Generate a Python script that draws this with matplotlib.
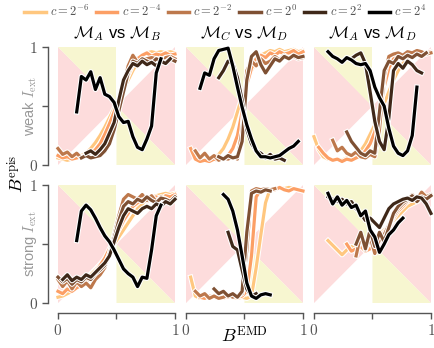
import numpy as np
import matplotlib
matplotlib.use("Agg")
import matplotlib.pyplot as plt
import matplotlib.patheffects as pe
from matplotlib.lines import Line2D

plt.rcParams['mathtext.fontset'] = 'cm'
plt.rcParams['font.family'] = ['Liberation Sans', 'DejaVu Sans']

nan = np.nan

# B^EMD sample positions shared by every curve
bemd = [0.00, 0.04, 0.08, 0.12, 0.16, 0.20, 0.24, 0.28, 0.32, 0.36, 0.40, 0.44, 0.48,
        0.52, 0.56, 0.60, 0.64, 0.68, 0.72, 0.76, 0.80, 0.84, 0.88, 0.92, 0.96, 1.00]

c_labels = [r'$c=2^{-6}$', r'$c=2^{-4}$', r'$c=2^{-2}$', r'$c=2^{0}$', r'$c=2^{2}$', r'$c=2^{4}$']
col_titles = [r'$\mathcal{M}_A$ vs $\mathcal{M}_B$', r'$\mathcal{M}_C$ vs $\mathcal{M}_D$',
              r'$\mathcal{M}_A$ vs $\mathcal{M}_D$']
row_labels = [r'weak $I_{\rm ext}$', r'strong $I_{\rm ext}$']

# B^epis per c (2^-6 ... 2^4), one list per panel
weak_AB = [
    [0.06, 0.05, 0.04, 0.05, 0.06, 0.08, 0.10, 0.14, 0.19, 0.25, 0.32, 0.40, 0.48, 0.56, 0.64, 0.72, 0.80, 0.87, 0.92, 0.95, 0.96, 0.95, 0.96, 0.95, 0.96, 0.95],
    [0.08, 0.06, 0.07, 0.05, 0.06, 0.07, 0.08, 0.10, 0.13, 0.18, 0.26, 0.35, 0.45, 0.56, 0.66, 0.76, 0.85, 0.90, 0.93, 0.95, 0.92, 0.94, 0.93, 0.95, 0.93, 0.94],
    [0.14, 0.09, 0.11, 0.07, 0.10, 0.06, 0.09, 0.07, 0.08, 0.09, 0.11, 0.22, 0.36, 0.50, 0.68, 0.84, 0.93, 0.87, 0.89, 0.90, 0.91, 0.90, 0.87, 0.91, 0.92, 0.90],
    [nan, nan, nan, nan, nan, 0.06, 0.08, 0.06, 0.07, 0.08, 0.12, 0.18, 0.30, 0.46, 0.62, 0.78, 0.88, 0.86, 0.90, 0.88, 0.86, 0.90, 0.88, 0.87, 0.90, 0.88],
    [nan, nan, nan, nan, nan, nan, 0.10, 0.12, 0.09, 0.13, 0.18, 0.27, 0.36, 0.55, 0.72, 0.80, 0.86, 0.84, 0.88, 0.85, 0.87, 0.84, 0.88, 0.86, 0.90, nan],
    [nan, nan, nan, nan, 0.45, 0.75, 0.72, 0.79, 0.64, 0.74, 0.60, 0.58, 0.53, 0.41, 0.36, 0.37, 0.24, 0.15, 0.13, 0.22, 0.33, 0.78, 0.90, nan, nan, nan],
]
weak_CD = [
    [nan, nan, nan, nan, nan, 0.04, 0.06, 0.09, 0.14, 0.22, 0.32, 0.45, 0.58, 0.70, 0.80, 0.88, 0.93, 0.95, 0.97, 0.96, 0.98, 0.96, 0.97, 0.98, 0.96, 0.97],
    [nan, 0.14, 0.05, 0.03, 0.04, 0.03, 0.05, 0.04, 0.06, 0.08, 0.14, 0.25, 0.45, 0.68, 0.82, 0.90, 0.93, 0.91, 0.95, 0.93, 0.96, 0.94, 0.95, 0.97, 0.94, 0.96],
    [nan, nan, 0.12, 0.06, 0.10, 0.05, 0.08, 0.04, 0.06, 0.05, 0.07, 0.05, 0.30, 0.80, 0.88, 0.84, 0.90, 0.86, 0.88, 0.92, 0.89, 0.93, 0.90, 0.92, 0.90, 0.91],
    [nan, nan, nan, nan, nan, nan, nan, 0.07, 0.05, 0.08, 0.06, 0.07, 0.20, 0.72, 0.92, 0.96, 0.85, 0.78, 0.84, 0.90, 0.88, 0.92, 0.90, 0.93, 0.91, 0.92],
    [nan, nan, nan, nan, nan, nan, nan, 0.74, 0.80, 0.88, 0.86, 0.74, 0.55, 0.30, 0.18, 0.12, 0.10, 0.06, 0.09, 0.05, 0.06, 0.04, nan, nan, nan, nan],
    [nan, nan, nan, 0.65, 0.78, 0.76, 0.90, 0.97, 0.98, 0.99, 0.84, 0.66, 0.49, 0.34, 0.22, 0.12, 0.07, 0.07, 0.06, 0.07, 0.08, 0.11, 0.14, 0.16, 0.20, nan],
]
weak_AD = [
    [0.24, 0.13, 0.07, 0.05, 0.04, 0.05, 0.04, 0.06, 0.05, 0.08, 0.12, 0.18, 0.26, 0.34, 0.42, 0.52, 0.62, 0.72, 0.80, 0.86, 0.90, 0.93, 0.95, 0.96, 0.95, 0.96],
    [nan, 0.15, 0.10, 0.06, 0.04, 0.05, 0.03, 0.05, 0.04, 0.06, 0.08, 0.12, 0.18, 0.28, 0.45, 0.66, 0.82, 0.90, 0.92, 0.94, 0.93, 0.95, 0.94, 0.96, 0.95, 0.96],
    [nan, nan, nan, nan, 0.21, 0.12, 0.15, 0.10, 0.08, 0.11, 0.07, 0.06, 0.09, 0.07, 0.30, 0.75, 0.92, 0.94, 0.95, 0.93, 0.96, 0.95, 0.97, 0.96, 0.94, 0.95],
    [nan, nan, nan, nan, nan, nan, nan, 0.28, 0.20, 0.15, 0.10, 0.08, 0.12, 0.10, 0.45, 0.80, 0.88, 0.86, 0.92, 0.90, 0.93, 0.91, 0.94, 0.92, 0.95, nan],
    [nan, nan, nan, nan, nan, nan, nan, nan, 0.90, 0.93, 0.95, 0.86, 0.62, 0.37, 0.20, 0.13, 0.40, 0.80, 0.86, 0.82, 0.88, 0.85, 0.80, 0.78, nan, nan],
    [nan, nan, nan, 0.96, 0.92, 0.90, 0.87, 0.91, 0.89, 0.86, 0.85, 0.86, 0.80, 0.66, 0.57, 0.50, 0.31, 0.16, 0.10, 0.08, 0.12, 0.25, 0.66, nan, nan, nan],
]
strong_AB = [
    [0.05, 0.06, 0.08, 0.10, 0.13, 0.16, 0.20, 0.24, 0.28, 0.33, 0.38, 0.44, 0.50, 0.56, 0.62, 0.68, 0.74, 0.80, 0.84, 0.88, 0.90, 0.91, 0.92, 0.93, 0.92, 0.93],
    [0.10, 0.08, 0.12, 0.10, 0.13, 0.15, 0.18, 0.22, 0.26, 0.32, 0.38, 0.46, 0.54, 0.62, 0.70, 0.76, 0.82, 0.85, 0.88, 0.86, 0.89, 0.90, 0.88, 0.91, 0.90, 0.92],
    [0.20, 0.14, 0.19, 0.12, 0.18, 0.14, 0.17, 0.13, 0.20, 0.24, 0.30, 0.42, 0.58, 0.74, 0.88, 0.92, 0.90, 0.88, 0.92, 0.87, 0.91, 0.86, 0.90, 0.88, 0.86, 0.89],
    [0.22, 0.18, 0.21, 0.16, 0.20, 0.18, 0.22, 0.20, 0.25, 0.28, 0.32, 0.42, 0.55, 0.70, 0.82, 0.86, 0.84, 0.88, 0.86, 0.90, 0.87, 0.85, 0.89, 0.88, 0.86, 0.90],
    [nan, 0.20, 0.24, 0.19, 0.22, 0.20, 0.24, 0.22, 0.26, 0.30, 0.34, 0.40, 0.52, 0.64, 0.74, 0.80, 0.78, 0.76, 0.80, 0.82, 0.80, 0.84, 0.82, 0.86, 0.84, 0.88],
    [nan, nan, nan, nan, 0.53, 0.78, 0.83, 0.79, 0.72, 0.64, 0.57, 0.52, 0.45, 0.37, 0.29, 0.25, 0.22, 0.14, 0.22, 0.21, 0.45, 0.74, 0.83, nan, nan, nan],
]
strong_CD = [
    [nan, 0.22, 0.06, 0.04, 0.05, 0.04, 0.06, 0.05, 0.04, 0.06, 0.05, 0.04, 0.05, 0.04, 0.06, 0.30, 0.58, 0.85, 0.97, 0.97, 0.98, 0.97, 0.98, 0.97, 0.96, 0.95],
    [nan, nan, nan, 0.05, 0.04, 0.06, 0.05, 0.04, 0.06, 0.05, 0.07, 0.05, 0.06, 0.10, 0.40, 0.90, 0.96, 0.95, 0.97, 0.96, 0.98, 0.96, 0.95, 0.97, 0.96, 0.95],
    [nan, nan, 0.10, 0.06, 0.08, 0.04, 0.06, 0.04, 0.05, 0.07, 0.05, 0.06, 0.08, 0.45, 0.95, 0.97, 0.96, 0.97, 0.96, 0.97, nan, nan, nan, nan, nan, nan],
    [nan, nan, nan, nan, nan, nan, 0.12, 0.08, 0.10, 0.06, 0.08, 0.05, 0.10, 0.60, 0.93, 0.95, 0.94, 0.96, 0.95, nan, nan, nan, nan, nan, nan, nan],
    [nan, nan, nan, nan, nan, nan, nan, nan, nan, 0.60, 0.48, 0.45, 0.28, 0.12, 0.06, 0.08, nan, nan, nan, nan, nan, nan, nan, nan, nan, nan],
    [nan, nan, nan, nan, nan, nan, nan, nan, 0.92, 0.88, 0.78, 0.62, 0.40, 0.17, 0.06, 0.04, 0.07, 0.08, 0.07, nan, nan, nan, nan, nan, nan, nan],
]
strong_AD = [
    [nan, nan, nan, 0.53, 0.49, 0.45, 0.41, 0.45, 0.48, 0.46, 0.48, 0.50, 0.52, 0.55, 0.58, 0.62, 0.66, 0.70, 0.74, 0.78, 0.82, 0.84, 0.86, nan, nan, nan],
    [nan, nan, nan, nan, nan, nan, nan, 0.50, 0.44, 0.46, 0.48, 0.44, 0.46, 0.50, 0.55, 0.60, 0.66, 0.72, 0.78, 0.82, 0.86, 0.88, 0.90, nan, nan, nan],
    [nan, nan, nan, nan, nan, nan, nan, nan, nan, 0.40, 0.58, 0.45, 0.56, 0.42, 0.54, 0.58, 0.66, 0.74, 0.80, 0.84, 0.87, 0.92, 0.88, 0.94, 0.90, 0.92],
    [nan, nan, nan, nan, nan, nan, nan, nan, nan, 0.50, 0.60, 0.46, 0.62, 0.48, 0.60, 0.52, 0.64, 0.76, 0.82, 0.86, 0.88, 0.91, 0.86, 0.90, 0.88, 0.91],
    [nan, nan, nan, 0.90, 0.88, 0.86, 0.88, 0.84, 0.86, 0.80, 0.76, 0.70, 0.72, 0.68, 0.64, 0.72, 0.80, 0.84, 0.86, 0.88, 0.89, 0.87, 0.90, 0.89, 0.84, 0.76],
    [nan, nan, nan, 0.93, 0.84, 0.90, 0.83, 0.87, 0.81, 0.83, 0.74, 0.78, 0.62, 0.56, 0.43, 0.50, 0.58, 0.62, 0.68, 0.72, nan, nan, nan, nan, nan, nan],
]

panels = [[weak_AB, weak_CD, weak_AD], [strong_AB, strong_CD, strong_AD]]
colors = [plt.cm.copper_r(v) for v in [0.0, 0.2, 0.4, 0.6, 0.8, 1.0]]
pink = '#fddcdc'
yellow = '#f7f6d0'
gray = '#555555'

fig, axes = plt.subplots(2, 3, figsize=(4.34, 3.48), dpi=100)
fig.subplots_adjust(left=0.1336, right=0.993, bottom=0.129, top=0.865, wspace=0.094, hspace=0.17)

for r in range(2):
    for k in range(3):
        ax = axes[r, k]
        ax.fill([0, 0, 0.5], [0, 1, 0.5], color=pink, lw=0, zorder=0)
        ax.fill([1, 1, 0.5], [0, 1, 0.5], color=pink, lw=0, zorder=0)
        ax.fill([0, 0.5, 0.5], [1, 1, 0.5], color=yellow, lw=0, zorder=0)
        ax.fill([0.5, 1, 0.5], [0, 0, 0.5], color=yellow, lw=0, zorder=0)
        for i, ys in enumerate(panels[r][k]):
            ax.plot(bemd, ys, color=colors[i], lw=2.3, clip_on=False,
                    path_effects=[pe.Stroke(linewidth=3.8, foreground='white'), pe.Normal()])
        ax.set_xlim(0, 1)
        ax.set_ylim(0, 1)
        for s in ['top', 'right']:
            ax.spines[s].set_visible(False)
        ax.spines['left'].set_position(('outward', 7))
        ax.spines['bottom'].set_position(('outward', 7))
        ax.spines['left'].set_bounds(0, 1)
        ax.spines['bottom'].set_bounds(0, 1)
        for s in ['left', 'bottom']:
            ax.spines[s].set_color(gray)
            ax.spines[s].set_linewidth(1.0)
        ax.set_xticks([0, 0.5, 1])
        ax.set_yticks([0, 0.5, 1])
        ax.set_xticklabels(['$0$', '', '$1$'])
        ax.set_yticklabels(['$0$', '', '$1$'])
        ax.tick_params(colors=gray, labelsize=11, length=4, width=1.0)
        if k > 0:
            ax.spines['left'].set_visible(False)
            ax.tick_params(left=False, labelleft=False)
        if r == 0:
            ax.spines['bottom'].set_visible(False)
            ax.tick_params(bottom=False, labelbottom=False)
            ax.set_title(col_titles[k], fontsize=12, pad=6)

# row labels and shared axis labels
fig.text(30 / 434, 1 - 106 / 348, row_labels[0], rotation=90, color='#999999', fontsize=10.5,
         ha='center', va='center')
fig.text(30 / 434, 1 - 244 / 348, row_labels[1], rotation=90, color='#999999', fontsize=10.5,
         ha='center', va='center')
fig.text(17 / 434, 0.5, r'$B^{\rm epis}$', rotation=90, fontsize=13, ha='center', va='center')
fig.text(244 / 434, 0.035, r'$B^{\rm EMD}$', fontsize=13, ha='center', va='center')

handles = [Line2D([], [], color=col, lw=2.5) for col in colors]
fig.legend(handles, c_labels, loc='upper center', bbox_to_anchor=(0.52, 1.02), ncol=6,
           frameon=False, fontsize=9, handlelength=1.7, handletextpad=0.35, columnspacing=0.55,
           labelcolor=gray)

fig.savefig('out.png', dpi=100)
